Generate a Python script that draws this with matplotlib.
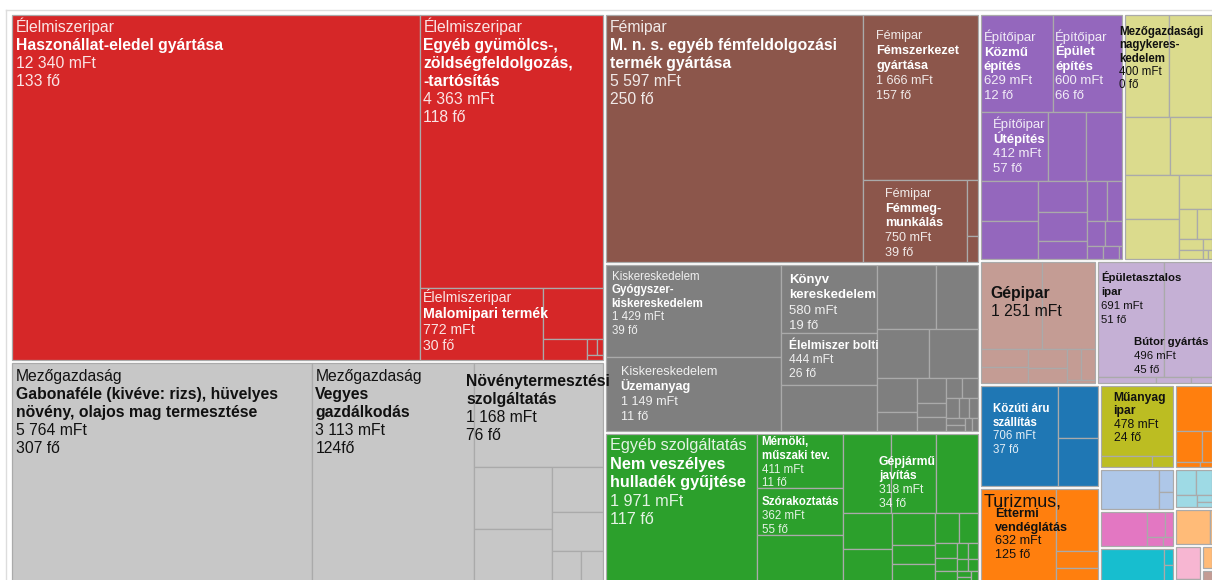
import matplotlib
matplotlib.use('Agg')
import matplotlib.pyplot as plt
from matplotlib.patches import Rectangle

# leaf values (mFt) per sector, largest first
elelmiszeripar = [12340, 4363, 772, 264, 81, 15, 8, 7]
mezogazdasag = [5764, 3113, 1168, 426, 360, 202, 171, 76, 59]
femipar = [5597, 1666, 750, 55, 25]
kiskereskedelem = [1429, 1149, 580, 444, 393, 333, 237, 229, 216, 120, 67, 64,
                   38, 36, 28, 28, 23, 18, 15, 12, 10, 8, 7]
egyeb_szolg = [1971, 411, 362, 355, 335, 318, 292, 155, 142, 121, 72, 68, 63, 50,
               30, 25, 20, 17, 14, 12, 10, 8, 6, 6]
epitoipar = [629, 600, 412, 236, 223, 204, 194, 135, 125, 81, 71, 53, 40, 38, 20, 19, 4]
nagyker = [400, 399, 234, 223, 215, 195, 101, 49, 43, 22, 21, 9, 5, 3]
gepipar = [478, 422, 75, 71, 66, 53, 40, 39, 7]
faipar = [691, 496, 30, 18, 11]
szallitas = [706, 186, 175]
turizmus = [632, 236, 64, 53]
muanyag = [478, 54, 22]
kis_1 = [157, 76, 28, 13, 7]
kis_2 = [220, 30, 24]
kis_3 = [155, 43, 20, 13, 9]
kis_4 = [200, 15, 15]
kis_5 = [50, 40, 24, 10, 8]
kis_6 = [120, 6]
kis_7 = [80, 6]
kis_8 = [25]
kis_9 = [14]

sectors = [elelmiszeripar, mezogazdasag, femipar, kiskereskedelem, egyeb_szolg,
           epitoipar, nagyker, gepipar, faipar, szallitas, turizmus, muanyag,
           kis_1, kis_2, kis_3, kis_4, kis_5, kis_6, kis_7, kis_8, kis_9]
sector_colors = ['#d62728', '#c7c7c7', '#8c564b', '#7f7f7f', '#2ca02c', '#9467bd',
                 '#dbdb8d', '#c49c94', '#c5b0d5', '#1f77b4', '#ff7f0e', '#bcbd22',
                 '#ff7f0e', '#aec7e8', '#e377c2', '#17becf', '#9edae5', '#ffbb78',
                 '#f7b6d2', '#ffbb78', '#c49c94']
light_text = {0, 2, 3, 4, 5, 9}

# labels: (sector, leaf, lines)   n = normal, b = bold
labels = [
    (0, 0, [('n', 'Élelmiszeripar'), ('b', 'Haszonállat-eledel gyártása'), ('n', '12 340 mFt'), ('n', '133 fő')]),
    (0, 1, [('n', 'Élelmiszeripar'), ('b', 'Egyéb gyümölcs-,'), ('b', 'zöldségfeldolgozás,'), ('b', '-tartósítás'),
            ('n', '4 363 mFt'), ('n', '118 fő')]),
    (0, 2, [('n', 'Élelmiszeripar'), ('b', 'Malomipari termék'), ('n', '772 mFt'), ('n', '30 fő')]),
    (1, 0, [('n', 'Mezőgazdaság'), ('b', 'Gabonaféle (kivéve: rizs), hüvelyes'), ('b', 'növény, olajos mag termesztése'),
            ('n', '5 764 mFt'), ('n', '307 fő')]),
    (1, 1, [('n', 'Mezőgazdaság'), ('b', 'Vegyes'), ('b', 'gazdálkodás'), ('n', '3 113 mFt'), ('n', '124fő')]),
    (1, 2, [('b', 'Növénytermesztési'), ('b', 'szolgáltatás'), ('n', '1 168 mFt'), ('n', '76 fő')]),
    (2, 0, [('n', 'Fémipar'), ('b', 'M. n. s. egyéb fémfeldolgozási'), ('b', 'termék gyártása'), ('n', '5 597 mFt'), ('n', '250 fő')]),
    (2, 1, [('n', 'Fémipar'), ('b', 'Fémszerkezet'), ('b', 'gyártása'), ('n', '1 666 mFt'), ('n', '157 fő')]),
    (2, 2, [('n', 'Fémipar'), ('b', 'Fémmeg-'), ('b', 'munkálás'), ('n', '750 mFt'), ('n', '39 fő')]),
    (3, 0, [('n', 'Kiskereskedelem'), ('b', 'Gyógyszer-'), ('b', 'kiskereskedelem'), ('n', '1 429 mFt'), ('n', '39 fő')]),
    (3, 1, [('n', 'Kiskereskedelem'), ('b', 'Üzemanyag'), ('n', '1 149 mFt'), ('n', '11 fő')]),
    (3, 2, [('b', 'Könyv'), ('b', 'kereskedelem'), ('n', '580 mFt'), ('n', '19 fő')]),
    (3, 3, [('b', 'Élelmiszer bolti'), ('n', '444 mFt'), ('n', '26 fő')]),
    (4, 0, [('n', 'Egyéb szolgáltatás'), ('b', 'Nem veszélyes'), ('b', 'hulladék gyűjtése'), ('n', '1 971 mFt'), ('n', '117 fő')]),
    (4, 1, [('b', 'Mérnöki,'), ('b', 'műszaki tev.'), ('n', '411 mFt'), ('n', '11 fő')]),
    (4, 2, [('b', 'Szórakoztatás'), ('n', '362 mFt'), ('n', '55 fő')]),
    (4, 5, [('b', 'Gépjármű'), ('b', 'javítás'), ('n', '318 mFt'), ('n', '34 fő')]),
    (5, 0, [('n', 'Építőipar'), ('b', 'Közmű'), ('b', 'építés'), ('n', '629 mFt'), ('n', '12 fő')]),
    (5, 1, [('n', 'Építőipar'), ('b', 'Épület'), ('b', 'építés'), ('n', '600 mFt'), ('n', '66 fő')]),
    (5, 2, [('n', 'Építőipar'), ('b', 'Útépítés'), ('n', '412 mFt'), ('n', '57 fő')]),
    (6, 0, [('b', 'Mezőgazdasági'), ('b', 'nagykeres-'), ('b', 'kedelem'), ('n', '400 mFt'), ('n', '0 fő')]),
    (7, 0, [('b', 'Gépipar'), ('n', '1 251 mFt')]),
    (8, 0, [('b', 'Épületasztalos'), ('b', 'ipar'), ('n', '691 mFt'), ('n', '51 fő')]),
    (8, 1, [('b', 'Bútor gyártás'), ('n', '496 mFt'), ('n', '45 fő')]),
    (9, 0, [('b', 'Közúti áru'), ('b', 'szállítás'), ('n', '706 mFt'), ('n', '37 fő')]),
    (10, 0, [('n', 'Turizmus,')]),
    (10, 0, [('b', 'Éttermi'), ('b', 'vendéglátás'), ('n', '632 mFt'), ('n', '125 fő')]),
    (11, 0, [('b', 'Műanyag'), ('b', 'ipar'), ('n', '478 mFt'), ('n', '24 fő')]),
]
# font px, line height, x offset, first baseline offset
label_styles = [
    (15, 18, 4, 17), (15, 18, 3, 17), (13.5, 16, 3, 14),
    (15, 18, 4, 18), (15, 18, 3, 18), (15, 18, -8, 23),
    (15, 18, 4, 17), (12, 15, 13, 24), (12, 14.7, 22, 17),
    (11, 13.5, 6, 15), (12, 15, 15, 18), (12.5, 15.5, 8, 18), (11.5, 14, 8, 16),
    (15.5, 18.5, 4, 16), (11, 13.7, 5, 11), (11, 14, 5, 17), (11.5, 14, -12, 31),
    (12.5, 14.5, 3, 26), (12.5, 14.5, 2, 26), (12.5, 14.5, 12, 16),
    (11, 13.3, -6, 20), (15, 18, 10, 36),
    (10.8, 14, 3, 19), (10.8, 14, -30, 83),
    (11, 13.7, 12, 26), (17, 18, 3, 17), (12, 13.5, 14, 28), (11.5, 13.5, 13, 15),
]
FONT_SCALE = 0.72 * 1.05   # px -> pt, plus a little for Arial's wider hinting

PHI = (1 + 5 ** 0.5) / 2


def squarify(values, x0, y0, x1, y1, ratio=PHI):
    # d3.treemapSquarify
    n = len(values)
    rects = [None] * n
    value = float(sum(values))
    i0 = i1 = 0
    while i0 < n:
        dx, dy = x1 - x0, y1 - y0
        s = values[i1]
        i1 += 1
        vmin = vmax = s
        alpha = max(dy / dx, dx / dy) / (value * ratio)
        beta = s * s * alpha
        best = max(vmax / beta, beta / vmin)
        while i1 < n:
            v = values[i1]
            s2 = s + v
            mn, mx = min(vmin, v), max(vmax, v)
            beta = s2 * s2 * alpha
            r = max(mx / beta, beta / mn)
            if r > best:
                break
            s, vmin, vmax, best = s2, mn, mx, r
            i1 += 1
        if dx < dy:
            yb = y0 + dy * s / value
            xx = x0
            for j in range(i0, i1):
                w = dx * values[j] / s
                rects[j] = (xx, y0, xx + w, yb)
                xx += w
            y0 = yb
        else:
            xr = x0 + dx * s / value
            yy = y0
            for j in range(i0, i1):
                h = dy * values[j] / s
                rects[j] = (x0, yy, xr, yy + h)
                yy += h
            x0 = xr
        value -= s
        i0 = i1
    return rects


fig = plt.figure(figsize=(12.12, 5.80), dpi=100)
ax = fig.add_axes([0, 0, 1, 1])
ax.set_xlim(0, 1212)
ax.set_ylim(580, 0)
ax.axis('off')

ax.plot([6, 6], [10, 600], color='#dddddd', lw=1)
ax.plot([6, 1300], [10, 10], color='#dddddd', lw=1)

totals = [sum(v) for v in sectors]
order = sorted(range(len(sectors)), key=lambda i: -totals[i])
outer = squarify([totals[i] for i in order], 10.5, 13.5, 1213.5, 583)
pad = 1.5
leaf_rects = {}
for k, si in enumerate(order):
    gx0, gy0, gx1, gy1 = outer[k]
    gx0, gy0, gx1, gy1 = gx0 + pad, gy0 + pad, gx1 - pad, gy1 - pad
    vals = sectors[si]
    lorder = sorted(range(len(vals)), key=lambda i: -vals[i])
    inner = squarify([vals[i] for i in lorder], gx0, gy0, gx1, gy1)
    for m, li in enumerate(lorder):
        x0, y0, x1, y1 = inner[m]
        leaf_rects[(si, li)] = inner[m]
        ax.add_patch(Rectangle((x0, y0), x1 - x0, y1 - y0, facecolor=sector_colors[si],
                               edgecolor='#aaaaaa', lw=0.9))

for (si, li, lines), (px, lh, dx, dy) in zip(labels, label_styles):
    x0, y0 = leaf_rects[(si, li)][:2]
    light = si in light_text
    for i, (kind, txt) in enumerate(lines):
        if light:
            col, alpha = 'white', (1.0 if kind == 'b' else 0.88)
        else:
            col, alpha = '#111111', 1.0
        ax.text(x0 + dx, y0 + dy + i * lh, txt, fontsize=px * FONT_SCALE,
                fontweight='bold' if kind == 'b' else 'normal',
                family=['Liberation Sans', 'DejaVu Sans'], color=col, alpha=alpha,
                ha='left', va='baseline', clip_on=False)

fig.savefig('out.png', dpi=100)
